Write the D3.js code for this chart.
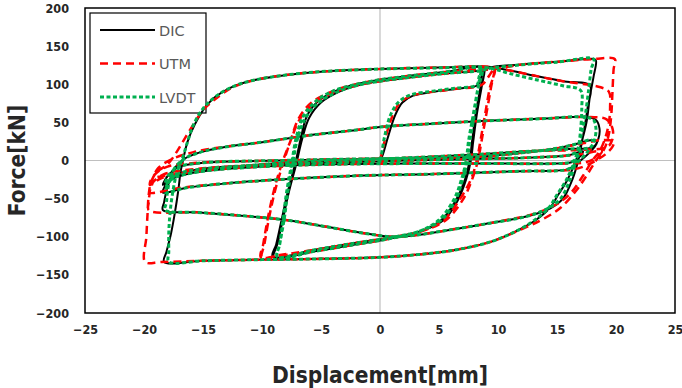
<!DOCTYPE html>
<html lang="en">
<head>
  <meta charset="UTF-8">
  <title>Force - Displacement</title>
  <style>
    *{box-sizing:border-box;margin:0;padding:0}
    body{background:#fff;width:682px;height:388px;overflow:hidden}
    .tick text{font-family:'DejaVu Sans Condensed','DejaVu Sans',sans-serif;font-weight:bold;font-size:12.5px;fill:#262626}
    .ttl{font-family:'DejaVu Sans Condensed','DejaVu Sans',sans-serif;font-weight:bold;font-size:22.5px;fill:#262626}
    .leg{font-family:'DejaVu Sans',sans-serif;font-size:14.5px;fill:#595959}
  </style>
  <script src="https://cdn.jsdelivr.net/npm/d3@7"></script>
</head>
<body>
  <div id="chart"></div>
  <script>
    /* ---------- DATA (displacement mm, force kN) ---------- */
    const xTicks=[-25,-20,-15,-10,-5,0,5,10,15,20,25];
    const yTicks=[-200,-150,-100,-50,0,50,100,150,200];
    const seriesNames=['DIC','UTM','LVDT'];

    const dicPts=[
      [0,0],[0.2,6],[0.7,32],[1.3,60],[1.9,76],[2.8,85],[4.5,90],[6.5,94],[8.3,99],[8.6,110],[8.9,121],
      [8.6,95],[8.2,60],[7.9,25],[7.7,0],[7.3,-25],[6.6,-52],[5.4,-78],[3.6,-92],[1.3,-100],[-2,-108],[-5.5,-117],[-9.1,-126],
      [-8.8,-110],[-8.3,-75],[-7.8,-40],[-7.2,-5],[-6.7,30],[-6.2,58],[-5.3,77],[-3.8,91],[-2,100],[0,106],[2.5,111],[5.5,116],[8.8,121],
      [8.5,95],[8.1,60],[7.8,25],[7.6,0],[7.2,-25],[6.5,-50],[5.2,-78],[3.4,-93],[1,-102],[-2,-110],[-5.5,-119],[-9.0,-127],
      [-8.7,-110],[-8.2,-75],[-7.7,-40],[-7.1,-5],[-6.6,28],[-6.0,56],[-5.0,76],[-3.5,90],[-1.8,99],[0,104],[2.5,109],[5.5,114],[8.9,119],
      [9.3,122],[12,126],[15,129.5],[18.1,133],
      [18.3,131],[18.1,110],[17.8,85],[17.5,50],[17.1,25],[16.6,0],[15.9,-25],[15.1,-45],[14.4,-62],[13.3,-77],[12,-89],[9.5,-106],[6.5,-117],[3.5,-123],[0,-127],[-5,-129],[-10,-130],[-15,-131.5],[-18.3,-133],
      [-18.1,-120],[-17.7,-95],[-17.4,-70],[-17.1,-40],[-16.9,-15],[-16.7,0],[-16.3,25],[-15.7,47],[-14.9,68],[-14,83],[-12.6,96],[-10.8,105],[-8,112],[-5,116.5],[0,120],[5,122],[9.2,123],
      [11,118],[13.5,110],[15.5,104],[17.8,98],
      [17.6,70],[17.3,40],[17.0,15],[16.8,0],[16.3,-25],[15.5,-50],[14.4,-63],[12.5,-73],[9,-83],[5.5,-92],[3,-98],[1,-100],
      [-1.5,-95],[-4.5,-87],[-8,-78],[-12,-72],[-15.5,-68],[-18.4,-65],
      [-18.3,-55],[-18.1,-40],[-17.8,-25],[-17.4,-10],[-16.6,2],[-15.2,11],[-13,18],[-10,24],[-6,33],[-2,40],[0,44],[4,48],[9,52],[14,55],[17.6,57],[18.3,53],[18.6,42],[18.5,28],[18.1,18],
      [16,15],[13,12.5],[8.2,8],[3,4],[-2,1],[-7,-2],[-12,-8],[-15.5,-15],[-17.5,-23],[-18.4,-32],
      [-18.2,-25],[-17.8,-17],[-17,-8],[-15,-3],[-8.5,0],[-2,2],[4,3],[8.5,5],[12,10],[15,16],[16.7,22],[18,27],[18.4,25],[18.2,18],[17.6,8],[17,0],[16.5,-7],[15.8,-12],
      [12,-14],[8,-16],[4,-18],[-2,-20],[-8.5,-25],[-13,-30],[-16.5,-36],[-18.4,-42],
      [-18.3,-36],[-18,-28],[-17.2,-18],[-15,-11],[-10,-6],[-4,-3],[2,0],[8,2],[13,4],[16,7],[17.2,12],
      [17,6],[16.3,-2],[15,-4],[10,-4],[3,-4],[-4,-5],[-10,-8],[-15,-14],[-17.8,-22]
    ];

    const utmPts=[
      [0,0],[0.1,6],[0.5,32],[1.1,60],[1.7,76],[2.7,85],[4.5,90],[6.5,94],[8.6,99],[9.2,110],[9.7,121],
      [9.4,95],[9.0,60],[8.6,25],[8.3,0],[7.8,-25],[7.0,-52],[5.6,-78],[3.7,-92],[1.3,-100],[-2,-108],[-5.5,-117],[-8.5,-124],[-10,-127],
      [-9.8,-110],[-9.4,-75],[-8.9,-40],[-8.3,-8],[-7.6,25],[-6.9,55],[-5.8,76],[-4,91],[-2,100],[0,106],[2.5,111],[5.5,116],[8.5,120.5],[9.7,121],
      [9.3,95],[8.9,60],[8.5,25],[8.2,0],[7.7,-25],[6.8,-50],[5.4,-78],[3.5,-93],[1,-102],[-2,-110],[-5.5,-119],[-8.6,-125],[-10.1,-127],
      [-9.9,-110],[-9.5,-75],[-9,-40],[-8.4,-8],[-7.6,25],[-6.8,54],[-5.6,75],[-3.8,90],[-1.8,99],[0,104],[2.5,109],[5.5,114],[8.5,118.5],[9.8,120],
      [10.5,122],[12,126],[15,129.5],[18,133],[19.9,133],
      [19.8,120],[19.7,90],[19.6,60],[19.4,35],[19,15],[18.3,0],[17.5,-20],[16.6,-40],[15.3,-62],[13.8,-77],[12.3,-88],[9.5,-106],[6.5,-117],[3.5,-123],[0,-127],[-5,-129],[-10,-130],[-15,-131.5],[-18.5,-133],[-19.9,-133],
      [-19.8,-100],[-19.7,-70],[-19.6,-45],[-19.4,-28],[-18.9,-15],[-18,-5],[-17.2,12],[-16.5,30],[-15.7,50],[-15,66],[-14,80],[-12.6,95],[-10.8,105],[-8,112],[-5,116.5],[0,120],[5,122],[9.2,123],
      [11,118],[13.5,110],[15.5,104],[18.7,96],[19.4,90],
      [19.5,70],[19.4,50],[19.1,30],[18.6,12],[18,0],[17.2,-20],[16.2,-42],[15,-57],[13,-70],[9,-83],[5.5,-92],[3,-98],[1,-100],
      [-1.5,-95],[-4.5,-87],[-8,-78],[-12,-72],[-15.5,-68],[-19.6,-65],
      [-19.6,-55],[-19.5,-40],[-19.3,-25],[-18.8,-10],[-17.6,2],[-15.8,11],[-13.2,18],[-10,24],[-6,33],[-2,40],[0,44],[4,48],[9,52],[14,55],[17.8,57],[19.2,54],[19.7,42],[19.7,28],[19.3,18],
      [17,14],[13,12.5],[8.2,8],[3,4],[-2,1],[-7,-2],[-12,-8],[-16,-15],[-18.5,-23],[-19.5,-32],
      [-19.4,-25],[-19,-17],[-18,-8],[-15.5,-3],[-8.5,0],[-2,2],[4,3],[8.5,5],[12,10],[15,16],[17,22],[19,27],[19.8,25],[19.7,18],[19.1,8],[18.3,0],[17.4,-7],[16.3,-12],
      [12,-14],[8,-16],[4,-18],[-2,-20],[-8.5,-25],[-13,-30],[-17,-36],[-19.5,-42],
      [-19.4,-36],[-19.2,-28],[-18.3,-18],[-15.5,-11],[-10,-6],[-4,-3],[2,0],[8,2],[13,4],[16.5,7],[18.8,12],
      [18.5,6],[17.5,-2],[15.5,-4],[10,-4],[3,-4],[-4,-5],[-10,-8],[-15.5,-14],[-19,-22]
    ];

    const lvdtPts=[
      [0,0],[0.1,6],[0.4,32],[0.9,60],[1.6,77],[2.6,86],[4.5,91],[6.5,95],[8.2,99],[8.4,110],[8.6,120],
      [8.3,95],[8.0,60],[7.6,25],[7.4,0],[7.0,-25],[6.4,-52],[5.2,-78],[3.5,-92],[1.3,-100],[-2,-108],[-5.5,-117],[-8.7,-126],
      [-8.5,-110],[-8.2,-75],[-7.9,-40],[-7.5,-5],[-7.1,30],[-6.5,58],[-5.5,77],[-4,91],[-2,100],[0,106],[2.5,111],[5.5,116],[8.6,120],
      [8.3,95],[7.9,60],[7.5,25],[7.3,0],[6.9,-25],[6.3,-50],[5.0,-78],[3.3,-93],[1,-102],[-2,-110],[-5.5,-119],[-8.7,-127],
      [-8.5,-110],[-8.1,-75],[-7.8,-40],[-7.4,-5],[-7.0,28],[-6.3,56],[-5.2,76],[-3.6,90],[-1.8,99],[0,104],[2.5,109],[5.5,114],[8.6,118],
      [9.3,121],[12,125.5],[15,129],[18.1,133],
      [17.9,120],[17.7,95],[17.4,60],[17.0,30],[16.5,0],[15.8,-25],[15.0,-45],[14.3,-62],[13.2,-77],[12,-89],[9.5,-106],[6.5,-117],[3.5,-123],[0,-127],[-5,-129],[-10,-130],[-15,-131.5],[-17.9,-133],
      [-17.9,-120],[-17.9,-95],[-17.8,-70],[-17.6,-45],[-17.2,-15],[-16.8,0],[-16.3,25],[-15.8,47],[-15,68],[-14,83],[-12.6,96],[-10.8,105],[-8,112],[-5,116.5],[0,120],[5,121.5],[9.0,122],
      [11,114],[13.5,105],[15.5,98],[17,92],
      [17.1,70],[17.0,40],[16.8,15],[16.6,0],[16.1,-25],[15.3,-50],[14.2,-63],[12.5,-73],[9,-83],[5.5,-92],[3,-98],[1,-100],
      [-1.5,-95],[-4.5,-87],[-8,-78],[-12,-72],[-15.5,-68],[-18.2,-65],
      [-18.1,-55],[-18.0,-40],[-17.8,-25],[-17.4,-10],[-16.6,2],[-15.2,11],[-13,18],[-10,24],[-6,33],[-2,40],[0,44],[4,48],[9,52],[14,55],[17.4,57],[18.1,53],[18.3,42],[18.2,28],[17.9,18],
      [16,15],[13,12.5],[8.2,8],[3,4],[-2,1],[-7,-2],[-12,-8],[-15.5,-15],[-17.5,-23],[-18.2,-32],
      [-18.1,-25],[-17.8,-17],[-17,-8],[-15,-3],[-8.5,0],[-2,2],[4,3],[8.5,5],[12,10],[15,16],[16.7,22],[17.8,27],[18.1,25],[17.9,18],[17.4,8],[16.9,0],[16.4,-7],[15.8,-12],
      [12,-14],[8,-16],[4,-18],[-2,-20],[-8.5,-25],[-13,-30],[-16.5,-36],[-18.2,-42],
      [-18.1,-36],[-17.9,-28],[-17.2,-18],[-15,-11],[-10,-6],[-4,-3],[2,0],[8,2],[13,4],[16,7],[17,12],
      [16.8,6],[16.2,-2],[15,-4],[10,-4],[3,-4],[-4,-5],[-10,-8],[-15,-14],[-17.8,-22]
    ];

    /* ---------- LAYOUT ---------- */
    const W=682,H=388,L=85,R=675,T=8,B=313;
    const x=d3.scaleLinear().domain([-25,25]).range([L,R]);
    const y=d3.scaleLinear().domain([-200,200]).range([B,T]);

    const svg=d3.select('#chart').append('svg').attr('width',W).attr('height',H);
    svg.append('defs').append('clipPath').attr('id','clip')
       .append('rect').attr('x',L).attr('y',T).attr('width',R-L).attr('height',B-T);

    /* ---- zero lines ---- */
    svg.append('line').attr('x1',x(0)).attr('x2',x(0)).attr('y1',T).attr('y2',B).attr('stroke','#bfbfbf').attr('stroke-width',1.2);
    svg.append('line').attr('x1',L).attr('x2',R).attr('y1',y(0)).attr('y2',y(0)).attr('stroke','#bfbfbf').attr('stroke-width',1.2);

    /* ---- axes ---- */
    svg.append('g').attr('transform',`translate(0,${B})`)
       .call(d3.axisBottom(x).tickValues(xTicks).tickSize(0).tickPadding(12))
       .call(g=>g.select('.domain').remove());
    svg.append('g').attr('transform',`translate(${L},0)`)
       .call(d3.axisLeft(y).tickValues(yTicks).tickSize(0).tickPadding(16))
       .call(g=>g.select('.domain').remove());

    svg.append('text').attr('class','ttl').attr('x',(L+R)/2).attr('y',383).attr('text-anchor','middle').text('Displacement[mm]');
    svg.append('text').attr('class','ttl').attr('text-anchor','middle')
       .attr('transform',`translate(25,${y(0)}) rotate(-90)`).text('Force[kN]');

    /* ---- legend ---- */
    const styles={
      DIC:{color:'#000000',width:2,dash:null},
      UTM:{color:'#ff0000',width:2.5,dash:'8,5'},
      LVDT:{color:'#00b050',width:3,dash:'4,2.5'}
    };
    svg.append('rect').attr('x',90).attr('y',13).attr('width',116).attr('height',100)
       .attr('fill','#fff').attr('stroke','#000').attr('stroke-width',1.2);
    seriesNames.forEach((n,i)=>{
      const ly=30+i*33.5,s=styles[n];
      svg.append('line').attr('x1',100).attr('x2',155).attr('y1',ly).attr('y2',ly)
         .attr('stroke',s.color).attr('stroke-width',s.width).attr('stroke-dasharray',s.dash);
      svg.append('text').attr('class','leg').attr('x',159).attr('y',ly+5.5).text(n);
    });

    /* ---- curves ---- */
    const line=d3.line().x(d=>x(d[0])).y(d=>y(d[1])).curve(d3.curveCatmullRom.alpha(0.5));
    const plot=svg.append('g').attr('clip-path','url(#clip)');
    [[dicPts,'DIC'],[utmPts,'UTM'],[lvdtPts,'LVDT']].forEach(([pts,n])=>{
      const s=styles[n];
      plot.append('path').datum(pts).attr('d',line).attr('fill','none')
          .attr('stroke',s.color).attr('stroke-width',s.width)
          .attr('stroke-dasharray',s.dash).attr('stroke-linejoin','round');
    });

    /* ---- frame ---- */
    svg.append('rect').attr('x',L).attr('y',T).attr('width',R-L).attr('height',B-T)
       .attr('fill','none').attr('stroke','#000').attr('stroke-width',1.5);
  </script>
</body>
</html>
